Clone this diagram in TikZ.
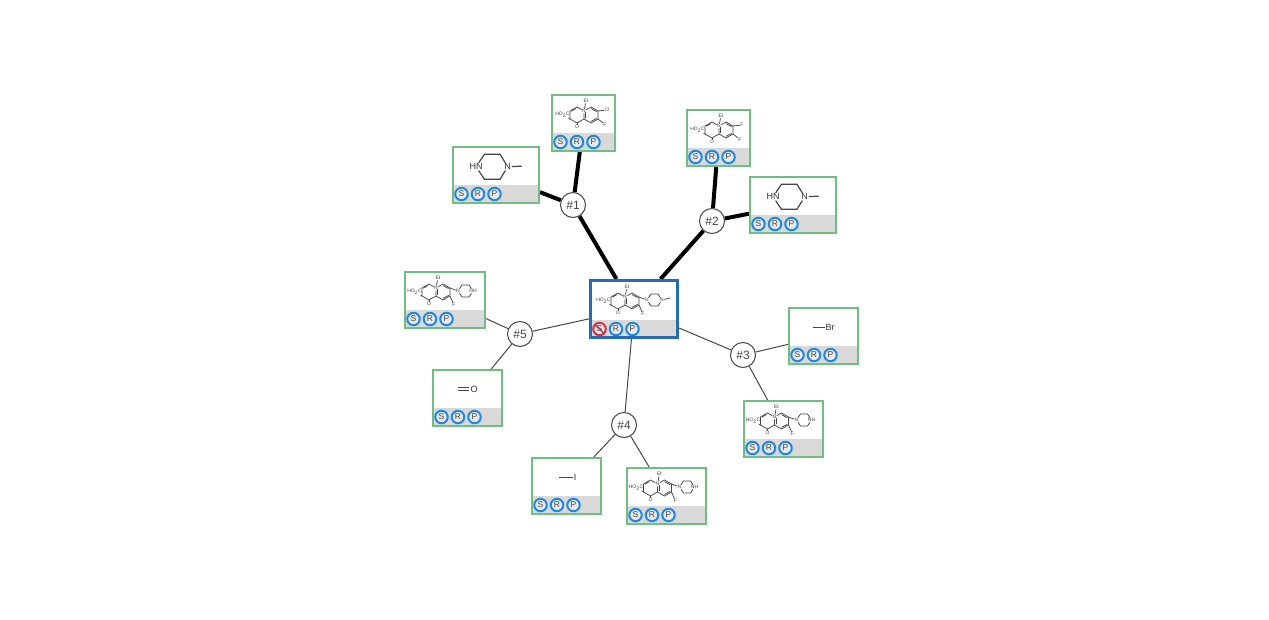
\documentclass[tikz,border=0pt]{standalone}
\usepackage{fontspec}
\setmainfont{Liberation Sans}
\usetikzlibrary{calc, backgrounds}
\definecolor{leaf}{RGB}{112, 190, 128}
\definecolor{root}{RGB}{38, 108, 180}
\definecolor{ring}{RGB}{30, 136, 229}
\definecolor{veto}{RGB}{214, 48, 72}
\definecolor{strip}{RGB}{217, 217, 217}
\definecolor{ink}{RGB}{70, 70, 70}

\tikzset{
  bond/.style={line width=0.75pt, draw=ink},
  atom/.style={inner sep=0.4pt, text=black!75, font=\fontsize{5}{5.5}\selectfont},
  bigbond/.style={line width=1.2pt, draw=ink},
  bigatom/.style={inner sep=0.6pt, text=black!80, font=\fontsize{9}{10}\selectfont},
  pics/quino/.style={code={
    \node[atom] (-n) at (7, -4) {N};
    \node[atom] (-et) at (9, -14) {Et};
    \node[atom] (-o) at (0, 12) {O};
    \node[atom] (-acid) at (-14.5, 0) {HO\textsubscript{2}C};
    \node[atom] (-f) at #1 {F};
    \draw[bond] (-n) -- (0, -8) -- (-7, -4) -- (-7, 4) -- (0, 8) -- (7, 4) -- (-n);
    \draw[bond] (-n) -- (14, -8) -- (21, -4) -- (21, 4) -- (14, 8) -- (7, 4);
    \draw[bond] (-1.2, -6.4) -- (-5.6, -3.8);
    \draw[bond] (14, -6.4) -- (19.6, -3.4);
    \draw[bond] (19.6, 3.4) -- (14, 6.4);
    \draw[bond] (8.4, 3.4) -- (8.4, -3.4);
    \draw[bond] (-n) -- (-et);
    \draw[bond] (0, 8) -- (-o);
    \draw[bond] (-7, 4) -- (-acid);
    \draw[bond] (21, 4) -- (-f);
  }},
  pics/piptail/.style={code={
    \node[atom] (-left) at (29, -1) {N};
    \node[atom] (-right) at (44, -1) {#1};
    \draw[bond] (21, -4) -- (-left);
    \draw[bond] (-left) -- (33, -7) -- (40, -7) -- (-right);
    \draw[bond] (-left) -- (33, 5) -- (40, 5) -- (-right);
  }},
  pics/bigpip/.style={code={
    \node[bigatom] (-hn) at (-20, -8.3) {HN};
    \node[bigatom] (-n) at (11.7, -8.3) {N};
    \draw[bigbond] (-hn) -- (-11.5, -20.7) -- (4, -20.7) -- (-n);
    \draw[bigbond] (-hn) -- (-11.5, 4.3) -- (4, 4.3) -- (-n);
    \draw[bigbond] (-n) -- (25.7, -8.8);
  }}
}

\begin{document}
\begin{tikzpicture}[x=1pt, y=-1pt,
  card/.style={rectangle, draw=leaf, line width=2pt, fill=white, inner sep=0pt,
    path picture={\fill[strip] (path picture bounding box.south west)
      rectangle ([yshift=18pt]path picture bounding box.south east);}},
  rootcard/.style={card, draw=root, line width=3pt},
  btn/.style={circle, draw=ring, line width=2pt, fill=strip!60, inner sep=0pt,
    minimum size=12.5pt, text=ink, font=\fontsize{8.5}{9}\selectfont},
  vetobtn/.style={btn, draw=veto,
    path picture={\draw[veto, line width=1.2pt] (path picture bounding box.north west)
      -- (path picture bounding box.south east);}},
  hub/.style={circle, draw=ink, line width=1pt, fill=white, inner sep=0pt,
    minimum size=25pt, text=ink, font=\fontsize{12}{13}\selectfont},
  heavy/.style={line width=4pt, draw=black},
  light/.style={line width=1pt, draw=ink}]

  \useasboundingbox (0, 0) rectangle (1269, 619);

  \foreach \name/\look/\firstbtn/\inset/\cx/\cy/\cardw/\cardh in {
    core/rootcard/vetobtn/10.5/634/309/87/57,
    a1/card/btn/9.5/583.5/123/63/56, b1/card/btn/9.5/496/175/86/56,
    a2/card/btn/9.5/718.5/138/63/56, b2/card/btn/9.5/793/205/86/56,
    a3/card/btn/9.5/823.5/336/69/56, b3/card/btn/9.5/783.5/429/79/56,
    a4/card/btn/9.5/566.5/486/69/56, b4/card/btn/9.5/666.5/496/79/56,
    a5/card/btn/9.5/445/300/80/56, b5/card/btn/9.5/467.5/398/69/56} {
    \node[\look, minimum width=\cardw pt, minimum height=\cardh pt] (\name) at (\cx, \cy) {};
    \node[\firstbtn] (\name-s) at ($(\name.south west) + (\inset, -10)$) {S};
    \node[btn] (\name-r) at ($(\name.south west) + (\inset + 16.5, -10)$) {R};
    \node[btn] (\name-p) at ($(\name.south west) + (\inset + 33, -10)$) {P};
  }

  \foreach \name/\cx/\cy/\tag in {h1/573/205/1, h2/712/221/2, h3/743/355/3, h4/624/425/4, h5/520/334/5}
    \node[hub] (\name) at (\cx, \cy) {\#\tag};

  \begin{scope}[on background layer]
    \foreach \from/\to in {core/h1, h1/a1, h1/b1, core/h2, h2/a2, h2/b2}
      \draw[heavy] (\from) -- (\to);
    \foreach \from/\to in {core/h3, h3/a3, h3/b3, core/h4, h4/a4, h4/b4, core/h5, h5/a5, h5/b5}
      \draw[light] (\from) -- (\to);
  \end{scope}

  \pic (mcore) at ($(core) + (-16, -8)$) {quino={(25, 13)}};
  \pic (tcore) at ($(core) + (-16, -8)$) {piptail={N}};
  \coordinate (tcoreend) at ($(tcore-right) + (8, -2)$);
  \draw[bond] (tcore-right) -- (tcoreend);

  \foreach \name/\halo/\mark in {a1/Cl/1, a2/F/2} {
    \pic (m\mark) at ($(\name) + (-6.5, -8)$) {quino={(28, 9.5)}};
    \node[atom] (x\mark) at ($(\name) + (23.5, -13)$) {\halo};
    \draw[bond] ($(\name) + (14.5, -12)$) -- (x\mark);
  }

  \foreach \name in {b3, b4, a5} {
    \pic (m\name) at ($(\name) + (-16, -8)$) {quino={(25, 13)}};
    \pic (t\name) at ($(\name) + (-16, -8)$) {piptail={NH}};
  }

  \pic (pb1) at (b1) {bigpip};
  \pic (pb2) at (b2) {bigpip};

  \node[bigatom] (brlabel) at ($(a3) + (6.5, -8.5)$) {Br};
  \draw[bigbond] ($(a3) + (-11, -8.5)$) -- (brlabel);
  \node[bigatom] (ilabel) at ($(a4) + (8.5, -8.7)$) {I};
  \draw[bigbond] ($(a4) + (-8, -8.7)$) -- (ilabel);
  \node[bigatom] (olabel) at ($(b5) + (6.5, -9)$) {O};
  \draw[bigbond, line width=1pt] ($(b5) + (-10, -10.2)$) -- ($(b5) + (1.5, -10.2)$);
  \draw[bigbond, line width=1pt] ($(b5) + (-10, -7.8)$) -- ($(b5) + (1.5, -7.8)$);

\end{tikzpicture}
\end{document}
